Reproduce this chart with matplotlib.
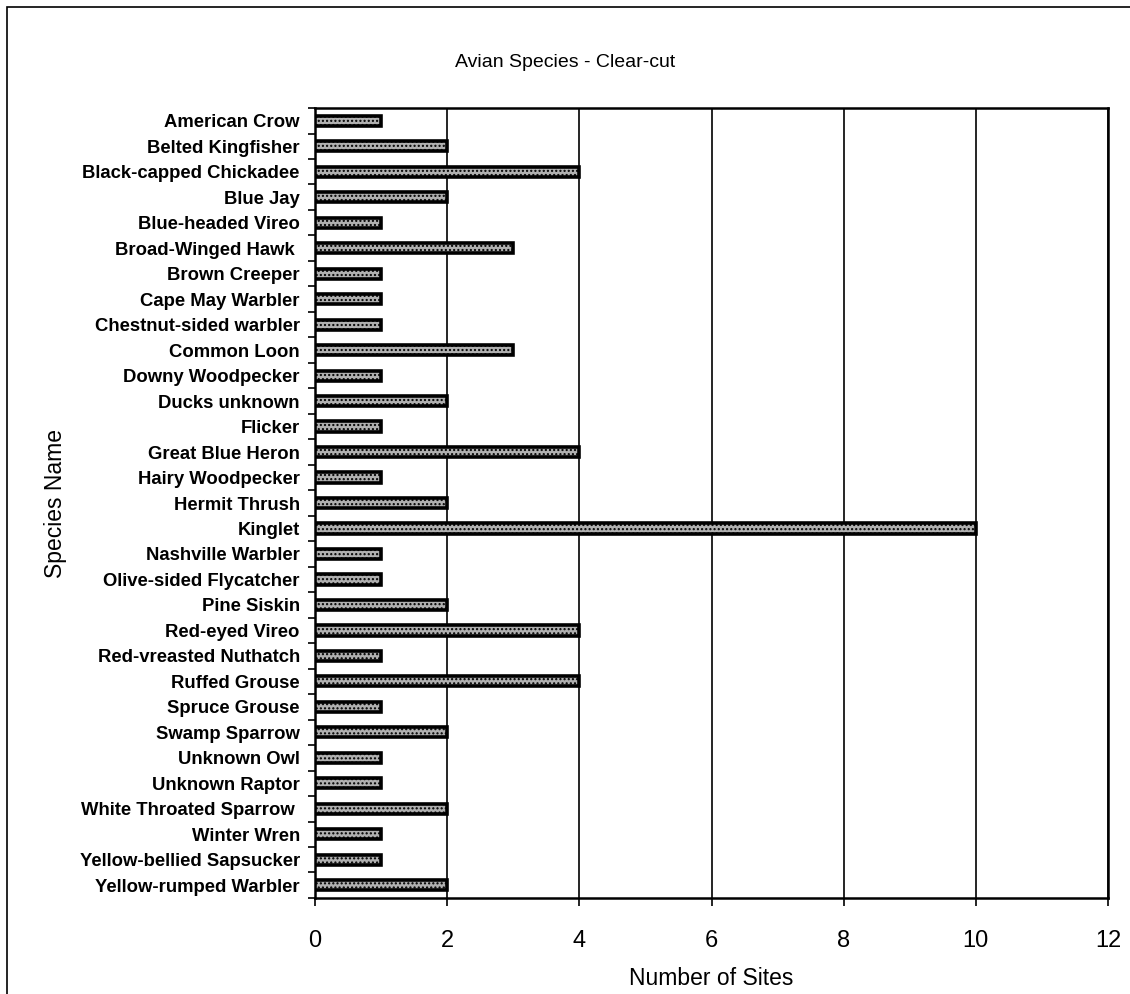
import matplotlib.pyplot as plt
import numpy as np
from matplotlib.patches import Rectangle

species = [
    "American Crow", "Belted Kingfisher", "Black-capped Chickadee", "Blue Jay",
    "Blue-headed Vireo", "Broad-Winged Hawk ", "Brown Creeper", "Cape May Warbler",
    "Chestnut-sided warbler", "Common Loon", "Downy Woodpecker", "Ducks unknown",
    "Flicker", "Great Blue Heron", "Hairy Woodpecker", "Hermit Thrush", "Kinglet",
    "Nashville Warbler", "Olive-sided Flycatcher", "Pine Siskin", "Red-eyed Vireo",
    "Red-vreasted Nuthatch", "Ruffed Grouse", "Spruce Grouse", "Swamp Sparrow",
    "Unknown Owl", "Unknown Raptor", "White Throated Sparrow ", "Winter Wren",
    "Yellow-bellied Sapsucker", "Yellow-rumped Warbler",
]
sites = [1, 2, 4, 2, 1, 3, 1, 1, 1, 3, 1, 2, 1, 4, 1, 2, 10,
         1, 1, 2, 4, 1, 4, 1, 2, 1, 1, 2, 1, 1, 2]

plt.rcParams["font.family"] = ["Liberation Sans", "DejaVu Sans"]
plt.rcParams["hatch.color"] = "#707070"
plt.rcParams["hatch.linewidth"] = 1.0

fig = plt.figure(figsize=(11.3, 9.94), dpi=100)
ax = fig.add_axes([0.2788, 0.0966, 0.7017, 0.7947])

# outer chart frame (only left/top fall inside the canvas)
fig.patches.append(Rectangle((0.0062, -0.05), 1.2, 1.043, transform=fig.transFigure,
                             fill=False, edgecolor="black", linewidth=1.2))

n = len(species)
y = np.arange(n)
ax.barh(y, sites, height=0.4, color="#b0b0b0", edgecolor="black",
        linewidth=2.6, hatch="....", zorder=3)

ax.set_xlim(0, 12)
ax.set_ylim(n - 0.5, -0.5)
ax.set_xticks(range(0, 13, 2))
ax.set_xticklabels([str(v) for v in range(0, 13, 2)], fontsize=17)
ax.xaxis.grid(True, color="black", linewidth=1.2, zorder=1)

ax.set_yticks(y)
ax.set_yticklabels(species, fontsize=13.3, fontweight="bold")
ax.set_yticks(np.arange(-0.5, n, 1.0), minor=True)
ax.tick_params(axis="y", which="major", length=0, pad=11)
ax.tick_params(axis="y", which="minor", length=5, width=1.2, direction="out")
ax.tick_params(axis="x", length=6, width=1.2, direction="out", pad=17)

for s in ax.spines.values():
    s.set_linewidth(1.8)

ax.set_xlabel("Number of Sites", fontsize=16.5, labelpad=11)
ax.set_ylabel("Species Name", fontsize=16.5, labelpad=9)
fig.text(0.5, 0.937, "Avian Species - Clear-cut", ha="center", va="center", fontsize=14)

fig.savefig("out.png", dpi=100)
